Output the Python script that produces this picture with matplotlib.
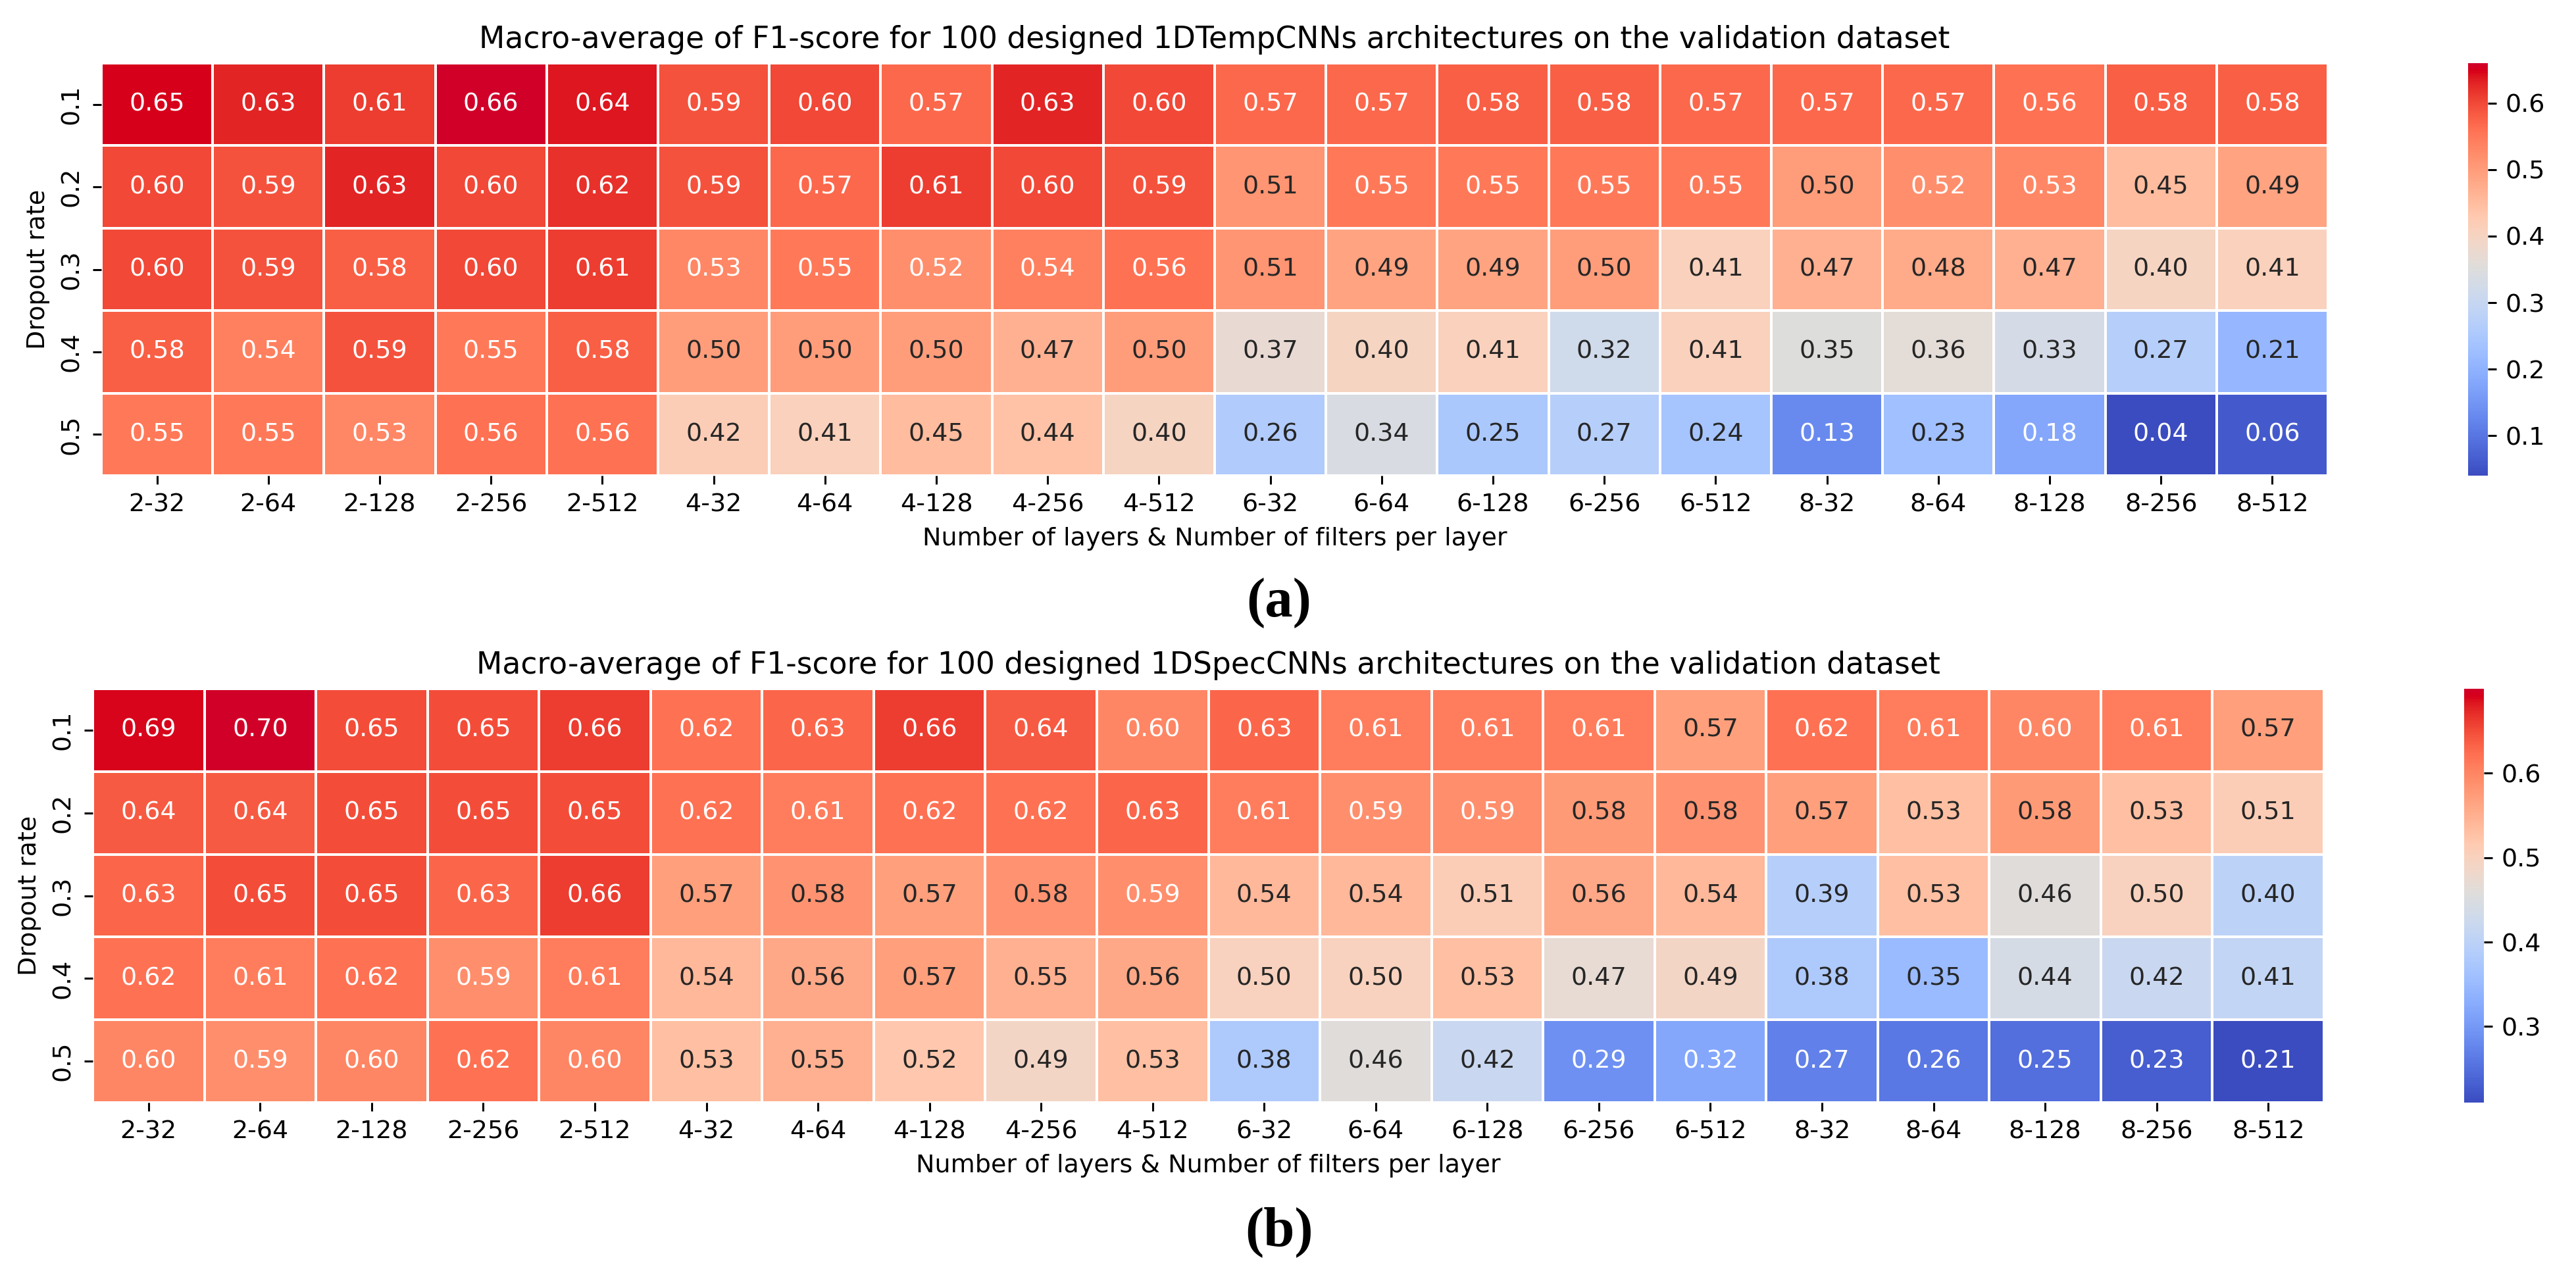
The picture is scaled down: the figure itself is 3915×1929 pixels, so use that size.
import numpy as np
import pandas as pd
import matplotlib
matplotlib.use("Agg")
import matplotlib.pyplot as plt
from matplotlib.colors import ListedColormap, Normalize, rgb_to_hsv, hsv_to_rgb
import seaborn as sns
from seaborn.utils import relative_luminance

# columns: layers-filters, rows: dropout rate
arch_labels = ["2-32", "2-64", "2-128", "2-256", "2-512",
               "4-32", "4-64", "4-128", "4-256", "4-512",
               "6-32", "6-64", "6-128", "6-256", "6-512",
               "8-32", "8-64", "8-128", "8-256", "8-512"]
dropout_rates = [0.1, 0.2, 0.3, 0.4, 0.5]

# (a) 1DTempCNNs
temp_d01 = [0.65, 0.63, 0.61, 0.66, 0.64, 0.59, 0.60, 0.57, 0.63, 0.60,
            0.57, 0.57, 0.58, 0.58, 0.57, 0.57, 0.57, 0.56, 0.58, 0.58]
temp_d02 = [0.60, 0.59, 0.63, 0.60, 0.62, 0.59, 0.57, 0.61, 0.60, 0.59,
            0.51, 0.55, 0.55, 0.55, 0.55, 0.50, 0.52, 0.53, 0.45, 0.49]
temp_d03 = [0.60, 0.59, 0.58, 0.60, 0.61, 0.53, 0.55, 0.52, 0.54, 0.56,
            0.51, 0.49, 0.49, 0.50, 0.41, 0.47, 0.48, 0.47, 0.40, 0.41]
temp_d04 = [0.58, 0.54, 0.59, 0.55, 0.58, 0.50, 0.50, 0.50, 0.47, 0.50,
            0.37, 0.40, 0.41, 0.32, 0.41, 0.35, 0.36, 0.33, 0.27, 0.21]
temp_d05 = [0.55, 0.55, 0.53, 0.56, 0.56, 0.42, 0.41, 0.45, 0.44, 0.40,
            0.26, 0.34, 0.25, 0.27, 0.24, 0.13, 0.23, 0.18, 0.04, 0.06]

# (b) 1DSpecCNNs (third digit guessed from cell/text colour where it matters)
spec_d01 = [0.69, 0.70, 0.65, 0.65, 0.66, 0.62, 0.63, 0.66, 0.64, 0.60,
            0.63, 0.61, 0.61, 0.61, 0.57, 0.62, 0.61, 0.60, 0.61, 0.57]
spec_d02 = [0.64, 0.64, 0.65, 0.65, 0.65, 0.62, 0.61, 0.62, 0.62, 0.63,
            0.61, 0.59, 0.59, 0.576, 0.584, 0.57, 0.53, 0.576, 0.53, 0.51]
spec_d03 = [0.63, 0.65, 0.65, 0.63, 0.66, 0.57, 0.584, 0.57, 0.584, 0.59,
            0.54, 0.54, 0.51, 0.56, 0.54, 0.39, 0.53, 0.46, 0.50, 0.40]
spec_d04 = [0.62, 0.61, 0.62, 0.59, 0.61, 0.54, 0.56, 0.57, 0.55, 0.56,
            0.50, 0.50, 0.53, 0.47, 0.49, 0.38, 0.35, 0.44, 0.42, 0.41]
spec_d05 = [0.60, 0.59, 0.60, 0.62, 0.60, 0.53, 0.55, 0.52, 0.49, 0.53,
            0.38, 0.46, 0.42, 0.29, 0.32, 0.27, 0.26, 0.25, 0.23, 0.21]

temp_df = pd.DataFrame([temp_d01, temp_d02, temp_d03, temp_d04, temp_d05],
                       index=dropout_rates, columns=arch_labels)
spec_df = pd.DataFrame([spec_d01, spec_d02, spec_d03, spec_d04, spec_d05],
                       index=dropout_rates, columns=arch_labels)

# coolwarm, but the red half a bit more vivid like in the figure
base_cmap = plt.get_cmap("coolwarm")
pos = np.linspace(0, 1, 256)
hsv = rgb_to_hsv(base_cmap(pos)[:, :3])
w = np.clip((pos - 0.5) / 0.5, 0, 1)
hsv[:, 1] = np.clip(hsv[:, 1] * (1 + 0.15 * w), 0, 1)
hsv[:, 2] = np.clip(hsv[:, 2] * (1 + 0.16 * w), 0, 1)
vivid = ListedColormap(hsv_to_rgb(hsv), name="coolwarm_vivid")

# original was drawn at ~274 dpi, we draw at 100 -> scale sizes up
k = 2.74
plt.rcParams.update({
    "font.family": "DejaVu Sans",
    "font.size": 10 * k,
    "axes.titlesize": 12 * k,
    "axes.labelsize": 10 * k,
    "xtick.labelsize": 10 * k,
    "ytick.labelsize": 10 * k,
    "xtick.major.size": 3.5 * k,
    "ytick.major.size": 3.5 * k,
    "xtick.major.width": 0.8 * k,
    "ytick.major.width": 0.8 * k,
    "xtick.major.pad": 3.5 * k,
    "ytick.major.pad": 3.5 * k,
    "axes.labelpad": 4 * k,
    "axes.titlepad": 6 * k,
})

W, H = 3915, 1929
fig = plt.figure(figsize=(W / 100, H / 100), dpi=100)

def px_box(x0, y0, x1, y1):
    return [x0 / W, 1 - y1 / H, (x1 - x0) / W, (y1 - y0) / H]

ax_a = fig.add_axes(px_box(154, 96, 3538, 723))
cax_a = fig.add_axes(px_box(3751, 96, 3781, 723))
ax_b = fig.add_axes(px_box(141, 1047, 3532, 1676))
cax_b = fig.add_axes(px_box(3745, 1047, 3775, 1676))

panels = [
    (temp_df, ax_a, cax_a, "1DTempCNNs", [0.1, 0.2, 0.3, 0.4, 0.5, 0.6]),
    (spec_df, ax_b, cax_b, "1DSpecCNNs", [0.3, 0.4, 0.5, 0.6]),
]
for df, ax, cax, name, cticks in panels:
    sns.heatmap(df, ax=ax, cbar_ax=cax, cmap=vivid, annot=True, fmt=".2f",
                linewidths=0.55 * k, linecolor="white",
                annot_kws={"size": 10 * k})
    # text colour picked from the plain coolwarm, as seaborn did originally
    norm = Normalize(df.values.min(), df.values.max())
    for txt, v in zip(ax.texts, df.values.flat):
        lum = relative_luminance(base_cmap(norm(v)))
        txt.set_color(".15" if lum > .408 else "w")
    ax.set_title("Macro-average of F1-score for 100 designed " + name +
                 " architectures on the validation dataset")
    ax.set_xlabel("Number of layers & Number of filters per layer")
    ax.set_ylabel("Dropout rate")
    cax.set_yticks(cticks)
    cax.tick_params(labelsize=10 * k, length=3.5 * k, width=0.8 * k)

fig.text(1944 / W, 1 - 917 / H, "(a)", ha="center", va="center",
         family="Liberation Serif", weight="bold", size=61)
fig.text(1944 / W, 1 - 1873 / H, "(b)", ha="center", va="center",
         family="Liberation Serif", weight="bold", size=61)

fig.savefig("out.png", dpi=100, facecolor="white")
